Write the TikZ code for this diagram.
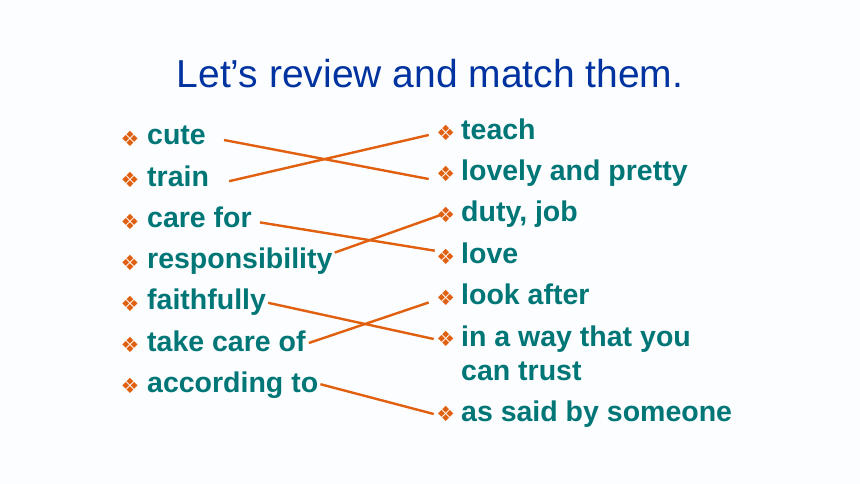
\documentclass[tikz,border=0pt]{standalone}
\usepackage{fontspec}
\setmainfont{Liberation Sans}
\newfontfamily\dejavu{DejaVu Sans}
\definecolor{wordteal}{RGB}{0,118,118}
\definecolor{linkorange}{RGB}{224,96,16}
\definecolor{titleblue}{RGB}{0,51,160}
\definecolor{bgedge}{RGB}{252,253,255}
\definecolor{bgmid}{RGB}{242,248,252}
\begin{document}
\begin{tikzpicture}
	[x=1pt,y=-1pt,
	title/.style={anchor=base,inner sep=0pt,text=titleblue,font=\fontsize{39}{44}\selectfont},
	word/.style={anchor=base west,inner sep=0pt,text=wordteal,font=\fontsize{28.5}{34}\selectfont\bfseries},
	dot/.style={inner sep=0pt,text=linkorange,font=\dejavu\fontsize{21}{21}\selectfont},
	link/.style={linkorange,line width=2.4pt}]
	\shade[top color=bgedge,middle color=bgmid,bottom color=bgedge] (0,0) rectangle (860,484);
	\useasboundingbox (0,0) rectangle (860,484);
	\node[title] (head) at (430,88) {Let’s review and match them.};
	% left column
	\node[dot] (l1) at (130,139) {❖};
	\node[word] (cute) at (147,145) {cute};
	\node[dot] (l2) at (130,180.2) {❖};
	\node[word] (train) at (147,186.2) {train};
	\node[dot] (l3) at (130,221.4) {❖};
	\node[word] (carefor) at (147,227.4) {care for};
	\node[dot] (l4) at (130,262.6) {❖};
	\node[word] (resp) at (147,268.6) {responsibility};
	\node[dot] (l5) at (130,303.8) {❖};
	\node[word] (faith) at (147,309.8) {faithfully};
	\node[dot] (l6) at (130,345) {❖};
	\node[word] (takecare) at (147,351) {take care of};
	\node[dot] (l7) at (130,386.2) {❖};
	\node[word] (accord) at (147,392.2) {according to};
	% right column
	\node[dot] (r1) at (445.7,133) {❖};
	\node[word] (teach) at (461,140) {teach};
	\node[dot] (r2) at (445.7,174) {❖};
	\node[word] (lovely) at (461,181) {lovely and pretty};
	\node[dot] (r3) at (445.7,215) {❖};
	\node[word] (duty) at (461,222) {duty, job};
	\node[dot] (r4) at (445.7,256.7) {❖};
	\node[word] (love) at (461,263) {love};
	\node[dot] (r5) at (445.7,297.5) {❖};
	\node[word] (lookafter) at (461,304) {look after};
	\node[dot] (r6) at (445.7,339) {❖};
	\node[word,align=left] (trust) at (461,380) {in a way that you\\can trust};
	\node[dot] (r7) at (445.7,414) {❖};
	\node[word] (said) at (461,421) {as said by someone};
	% matching lines
	\draw[link] ([shift={(18,-5)}]cute.base east) -- ([shift={(-17,5)}]r2.center);
	\draw[link] ([shift={(20,-5)}]train.base east) -- ([shift={(-17,2)}]r1.center);
	\draw[link] ([shift={(8,-5)}]carefor.base east) -- ([shift={(-11,-6)}]r4.center);
	\draw[link] ([shift={(2,-16)}]resp.base east) -- ([shift={(-5,0)}]r3.center);
	\draw[link] ([shift={(2,-7)}]faith.base east) -- ([shift={(-12,0)}]r6.center);
	\draw[link] ([shift={(3,-8)}]takecare.base east) -- ([shift={(-17,5)}]r5.center);
	\draw[link] ([shift={(2,-8)}]accord.base east) -- ([shift={(-12,0)}]r7.center);
\end{tikzpicture}
\end{document}
